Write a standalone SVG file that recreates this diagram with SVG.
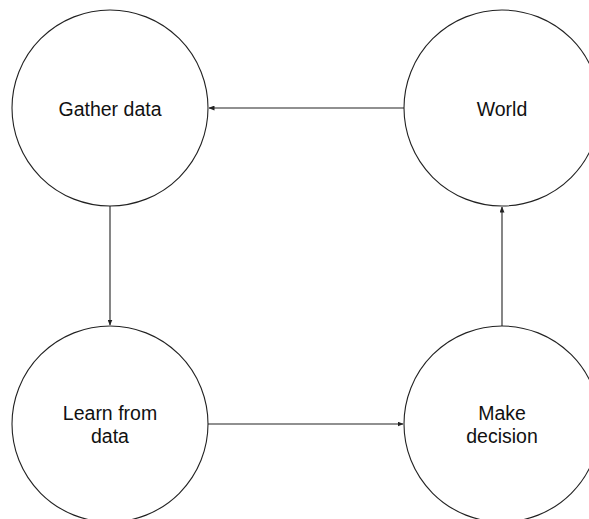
<svg xmlns="http://www.w3.org/2000/svg" width="589" height="519" viewBox="0 0 589 519">
<style>
.node{fill:#fff;stroke:#222;stroke-width:1.1}
.lbl{font-family:"Liberation Sans",Arial,sans-serif;font-size:19.5px;fill:#111;text-anchor:middle}
.edge{stroke:#222;stroke-width:1.1;fill:none;marker-end:url(#ah)}
</style>
<defs>
<marker id="ah" markerWidth="6" markerHeight="5" refX="5.5" refY="2.5" orient="auto" markerUnits="userSpaceOnUse">
<path d="M0,0 L6,2.5 L0,5 Z" fill="#222"/>
</marker>
</defs>
<rect width="589" height="519" fill="#fff"/>
<g id="connectors">
<line class="edge" x1="404" y1="108" x2="209" y2="108"/>
<line class="edge" x1="110" y1="206" x2="110" y2="325"/>
<line class="edge" x1="208" y1="424" x2="403" y2="424"/>
<line class="edge" x1="502" y1="326" x2="502" y2="207"/>
</g>
<g id="gather">
<circle class="node" cx="110" cy="108" r="98"/>
<text class="lbl" x="110" y="115.5">Gather data</text>
</g>
<g id="world">
<circle class="node" cx="502" cy="108" r="98"/>
<text class="lbl" x="502" y="115.5">World</text>
</g>
<g id="learn">
<circle class="node" cx="110" cy="424" r="98"/>
<text class="lbl" x="110" y="420">Learn from</text>
<text class="lbl" x="110" y="443">data</text>
</g>
<g id="decide">
<circle class="node" cx="502" cy="424" r="98"/>
<text class="lbl" x="502" y="420">Make</text>
<text class="lbl" x="502" y="443">decision</text>
</g>
</svg>
